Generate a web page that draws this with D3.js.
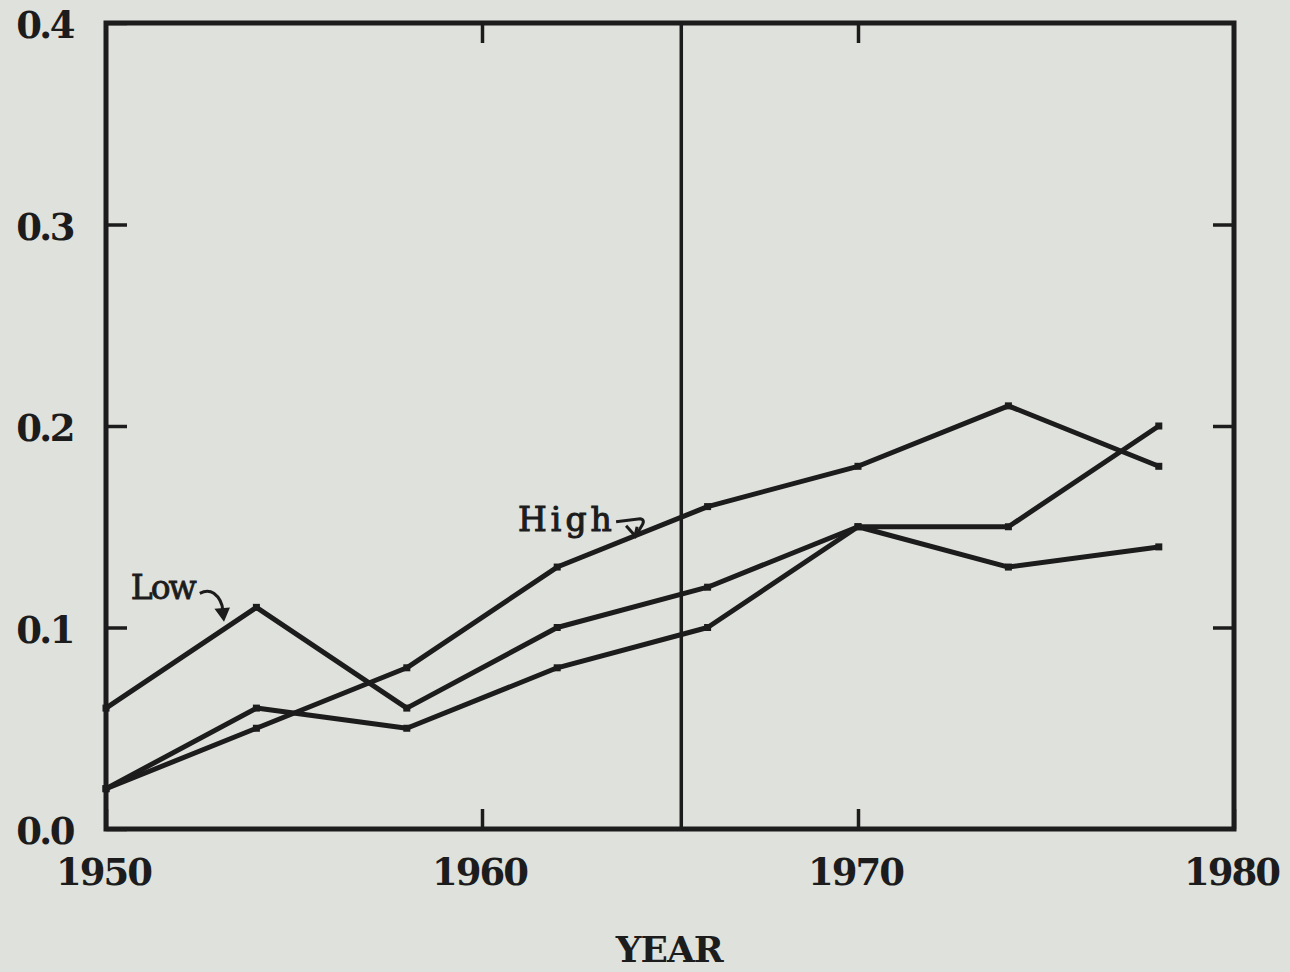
<!DOCTYPE html>
<html>
<head>
<meta charset="utf-8">
<script src="https://cdn.jsdelivr.net/npm/d3@7"></script>
<style>
	html, body { margin: 0; padding: 0; background: #dfe1dc; overflow: hidden; }
	svg { display: block; }
</style>
</head>
<body>
<svg></svg>
<script>
// data
const years = [1950, 1954, 1958, 1962, 1966, 1970, 1974, 1978];
const highValues = [0.02, 0.05, 0.08, 0.13, 0.16, 0.18, 0.21, 0.18];
const lowValues = [0.06, 0.11, 0.06, 0.10, 0.12, 0.15, 0.13, 0.14];
const midValues = [0.02, 0.06, 0.05, 0.08, 0.10, 0.15, 0.15, 0.20];

const xTicks = [1950, 1960, 1970, 1980];
const yTicks = [0.0, 0.1, 0.2, 0.3, 0.4];
const markerYear = 1965.3;

const width = 1290;
const height = 972;
const margin = { top: 23, right: 56, bottom: 143, left: 106 };
const innerWidth = width - margin.left - margin.right;
const innerHeight = height - margin.top - margin.bottom;

const ink = '#1c1c1c';

const svg = d3.select('svg')
	.attr('width', width)
	.attr('height', height);

svg.append('rect')
	.attr('width', width)
	.attr('height', height)
	.attr('fill', '#dfe1dc');

const g = svg.append('g')
	.attr('transform', `translate(${margin.left}, ${margin.top})`);

const xScale = d3.scaleLinear()
	.domain([1950, 1980])
	.range([0, innerWidth]);

const yScale = d3.scaleLinear()
	.domain([0, 0.4])
	.range([innerHeight, 0]);

// axes, ticks point inward
const xAxis = d3.axisBottom(xScale)
	.tickValues(xTicks)
	.tickFormat(d3.format('d'))
	.tickSize(-20)
	.tickPadding(30);

const xAxisTop = d3.axisTop(xScale)
	.tickValues([1960, 1970])
	.tickSize(-20);

const yAxis = d3.axisLeft(yScale)
	.tickValues(yTicks)
	.tickFormat(d3.format('.1f'))
	.tickSize(-21)
	.tickPadding(33);

const yAxisRight = d3.axisRight(yScale)
	.tickValues([0.1, 0.2, 0.3])
	.tickSize(-21);

const styleAxis = sel => {
	sel.select('.domain').remove();
	sel.selectAll('line').attr('stroke', ink).attr('stroke-width', 3.5);
	sel.selectAll('text')
		.attr('fill', ink)
		.style('font-family', '"DejaVu Serif", serif')
		.style('font-weight', 'bold');
};

// the top and right axes only carry tick marks
const ticksOnly = sel => {
	sel.select('.domain').remove();
	sel.selectAll('text').remove();
	sel.selectAll('line').attr('stroke', ink).attr('stroke-width', 3.5);
};

g.append('g')
	.attr('transform', `translate(0, ${innerHeight})`)
	.call(xAxis)
	.call(styleAxis)
	.selectAll('text')
	.style('font-size', '37px')
	.style('letter-spacing', '-2px')
	.attr('dx', '-3');

g.append('g')
	.call(xAxisTop)
	.call(ticksOnly);

g.append('g')
	.call(yAxis)
	.call(styleAxis)
	.selectAll('text')
	.style('font-size', '37px')
	.style('letter-spacing', '-2.5px')
	.attr('dy', '0.4em');

g.append('g')
	.attr('transform', `translate(${innerWidth}, 0)`)
	.call(yAxisRight)
	.call(ticksOnly);

// frame
g.append('rect')
	.attr('width', innerWidth)
	.attr('height', innerHeight)
	.attr('fill', 'none')
	.attr('stroke', ink)
	.attr('stroke-width', 5);

// vertical marker line
g.append('line')
	.attr('x1', xScale(markerYear))
	.attr('x2', xScale(markerYear))
	.attr('y1', 0)
	.attr('y2', innerHeight)
	.attr('stroke', ink)
	.attr('stroke-width', 3.5);

// series
const series = [highValues, lowValues, midValues];

const line = d3.line()
	.x((d, i) => xScale(years[i]))
	.y(d => yScale(d));

g.selectAll('.series')
	.data(series)
	.enter()
	.append('path')
	.attr('class', 'series')
	.attr('d', line)
	.attr('fill', 'none')
	.attr('stroke', ink)
	.attr('stroke-width', 5)
	.attr('stroke-linejoin', 'round');

// small plotted points, mostly hidden in the joins
series.forEach(values => {
	g.selectAll(null)
		.data(values)
		.enter()
		.append('rect')
		.attr('x', (d, i) => xScale(years[i]) - 3.5)
		.attr('y', d => yScale(d) - 3.5)
		.attr('width', 7)
		.attr('height', 7)
		.attr('fill', ink);
});

// hand-written labels with curly arrows
const labelFont = '"DejaVu Serif", serif';

const lowPos = [xScale(1950.66), yScale(0.114)];
g.append('text')
	.text('Low')
	.attr('x', lowPos[0])
	.attr('y', lowPos[1])
	.attr('fill', ink)
	.attr('stroke', ink)
	.attr('stroke-width', 0.8)
	.style('font-family', labelFont)
	.style('font-size', '33px')
	.style('letter-spacing', '-2px');

g.append('path')
	.attr('d', `M${lowPos[0] + 69},${lowPos[1] - 6} q8,-4 14,0 q8,6 9,17 l0,5`)
	.attr('fill', 'none')
	.attr('stroke', ink)
	.attr('stroke-width', 3);

g.append('path')
	.attr('d', `M${lowPos[0] + 85},${lowPos[1] + 10} l8,11 l5,-12 z`)
	.attr('fill', ink)
	.attr('stroke', ink)
	.attr('stroke-width', 1.5);

const highPos = [xScale(1960.96), yScale(0.148)];
g.append('text')
	.text('High')
	.attr('x', highPos[0])
	.attr('y', highPos[1])
	.attr('fill', ink)
	.attr('stroke', ink)
	.attr('stroke-width', 1.1)
	.style('font-family', labelFont)
	.style('font-size', '33px')
	.style('letter-spacing', '4px');

g.append('path')
	.attr('d', `M${highPos[0] + 98},${highPos[1] - 9} l24,-3 q6,1 1,8 l-5,9`)
	.attr('fill', 'none')
	.attr('stroke', ink)
	.attr('stroke-width', 3);

g.append('path')
	.attr('d', `M${highPos[0] + 108},${highPos[1] - 5} l9,10 l2,-9`)
	.attr('fill', 'none')
	.attr('stroke', ink)
	.attr('stroke-width', 3);

// axis title
g.append('text')
	.text('YEAR')
	.attr('x', xScale(markerYear) - 12)
	.attr('y', innerHeight + 133)
	.attr('text-anchor', 'middle')
	.attr('fill', ink)
	.style('font-family', '"DejaVu Serif", serif')
	.style('font-weight', 'bold')
	.style('font-size', '36px')
	.style('letter-spacing', '-1px');
</script>
</body>
</html>
